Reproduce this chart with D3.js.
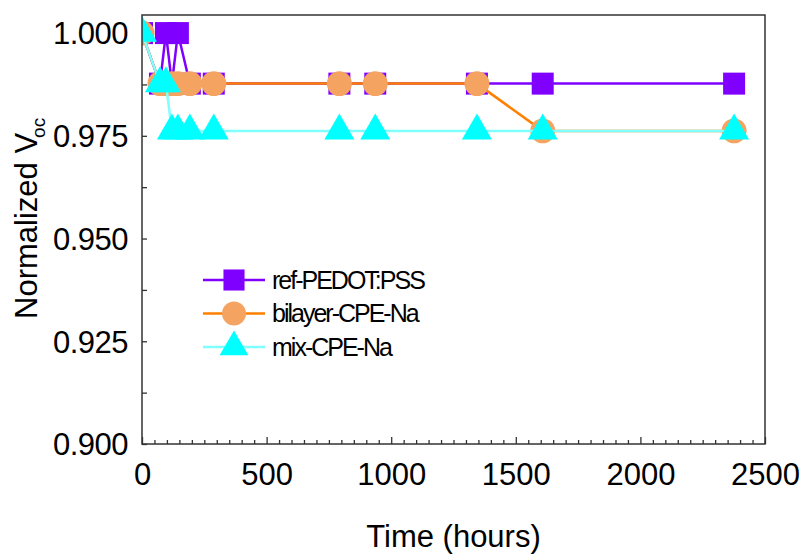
<!DOCTYPE html>
<html>
<head>
<meta charset="utf-8">
<script src="https://cdn.jsdelivr.net/npm/d3@7"></script>
<style>
    body { margin: 0; background: #fff; }
    text { font-family: "Liberation Sans", Arial, sans-serif; fill: #000; }
</style>
</head>
<body>
<div id="chart"></div>
<script>
// data
var hours = [0, 72, 96, 120, 144, 192, 288, 792, 936, 1344, 1608, 2376];
var refPedot = [1.000, 0.9877, 1.000, 0.9877, 1.000, 0.9877, 0.9877, 0.9877, 0.9877, 0.9877, 0.9877, 0.9877];
var bilayerCpe = [1.000, 0.9877, 0.9877, 0.9877, 0.9877, 0.9877, 0.9877, 0.9877, 0.9877, 0.9877, 0.9762, 0.9762];
var mixCpe = [1.000, 0.9877, 0.9877, 0.9762, 0.9762, 0.9762, 0.9762, 0.9762, 0.9762, 0.9762, 0.9762, 0.9762];

var seriesNames = ["ref-PEDOT:PSS", "bilayer-CPE-Na", "mix-CPE-Na"];
var xTicks = [0, 500, 1000, 1500, 2000, 2500];
var yTicks = [0.900, 0.925, 0.950, 0.975, 1.000];

var svgWidth = 804;
var svgHeight = 555;

var margin = { top: 15, left: 142, right: 39, bottom: 111 };
var width = svgWidth - margin.left - margin.right;
var height = svgHeight - margin.top - margin.bottom;

var svg = d3.select("#chart")
    .append("svg")
    .attr("width", svgWidth)
    .attr("height", svgHeight);

var chartGroup = svg.append("g")
    .attr("transform", `translate(${margin.left}, ${margin.top})`);

// markers are cut at the frame, like the original
chartGroup.append("clipPath")
    .attr("id", "plotClip")
    .append("rect")
    .attr("width", width)
    .attr("height", height);

var xScale = d3.scaleLinear().domain([0, 2500]).range([0, width]);
var yScale = d3.scaleLinear().domain([0.9, 1.0044]).range([height, 0]);

// minor ticks
var xMinor = d3.range(0, 2501, 50).filter(d => d % 500 != 0);
var yMinor = d3.range(0.9125, 1.0, 0.025);

chartGroup.append("g")
    .attr("transform", `translate(0, ${height})`)
    .call(d3.axisBottom(xScale).tickValues(xMinor).tickSize(-4).tickFormat(""))
    .call(g => g.select(".domain").remove());

var xAxis = chartGroup.append("g")
    .attr("transform", `translate(0, ${height})`)
    .call(d3.axisBottom(xScale).tickValues(xTicks).tickSize(-7).tickPadding(19).tickFormat(d3.format("d")));
xAxis.select(".domain").remove();

chartGroup.append("g")
    .call(d3.axisLeft(yScale).tickValues(yMinor).tickSize(-5).tickFormat(""))
    .call(g => g.select(".domain").remove());

var yAxis = chartGroup.append("g")
    .call(d3.axisLeft(yScale).tickValues(yTicks).tickSize(-5).tickPadding(14).tickFormat(d3.format(".3f")));
yAxis.select(".domain").remove();

chartGroup.selectAll(".tick line").attr("stroke", "#333").attr("stroke-width", 1.3);
xAxis.selectAll("text").style("font-size", "31px").attr("dy", "0.71em");
yAxis.selectAll("text").style("font-size", "31px").style("letter-spacing", "-0.5px").attr("dy", "0.35em");

// series
var series = [
    { name: seriesNames[0], values: refPedot, line: "#8000ff", fill: "#8000ff", symbol: d3.symbolSquare, size: 484 },
    { name: seriesNames[1], values: bilayerCpe, line: "#ff8000", fill: "#f4a460", symbol: d3.symbolCircle, size: 490 },
    { name: seriesNames[2], values: mixCpe, line: "#80ffff", fill: "#00ffff", symbol: d3.symbolTriangle, size: 390 }
];

var line = d3.line()
    .x(d => xScale(d[0]))
    .y(d => yScale(d[1]));

var plotArea = chartGroup.append("g").attr("clip-path", "url(#plotClip)");

series.forEach(function (s) {
    var pts = hours.map((h, i) => [h, s.values[i]]);
    var g = plotArea.append("g");
    g.append("path")
        .datum(pts)
        .attr("d", line)
        .attr("fill", "none")
        .attr("stroke", s.line)
        .attr("stroke-width", 2.5);
    g.selectAll("path.marker")
        .data(pts)
        .enter()
        .append("path")
        .classed("marker", true)
        .attr("transform", d => `translate(${xScale(d[0])}, ${yScale(d[1])})`)
        .attr("d", d3.symbol().type(s.symbol).size(s.size))
        .attr("fill", s.fill);
});

// frame
chartGroup.append("rect")
    .attr("width", width)
    .attr("height", height)
    .attr("fill", "none")
    .attr("stroke", "#333")
    .attr("stroke-width", 1.5);

// legend
var legend = svg.append("g").attr("transform", "translate(203, 280)");
series.forEach(function (s, i) {
    var row = legend.append("g").attr("transform", `translate(0, ${i * 33.5})`);
    row.append("line")
        .attr("x1", 0).attr("x2", 62)
        .attr("stroke", s.line)
        .attr("stroke-width", 2.5);
    row.append("path")
        .attr("transform", "translate(31, 0)")
        .attr("d", d3.symbol().type(s.symbol).size(s.size * 0.92))
        .attr("fill", s.fill);
    row.append("text")
        .attr("x", 69)
        .attr("y", 0)
        .attr("dy", "0.35em")
        .style("font-size", "25px")
        .style("letter-spacing", "-2px")
        .text(s.name);
});

// axis titles
svg.append("text")
    .attr("x", margin.left + width / 2)
    .attr("y", 547)
    .attr("text-anchor", "middle")
    .style("font-size", "31px")
    .text("Time (hours)");

var yTitle = svg.append("text")
    .attr("transform", "translate(37, 319) rotate(-90)")
    .attr("text-anchor", "start")
    .style("font-size", "31px");
yTitle.append("tspan").text("Normalized V");
yTitle.append("tspan").attr("dx", -5).attr("dy", 8).style("font-size", "19px").text("oc");
</script>
</body>
</html>
